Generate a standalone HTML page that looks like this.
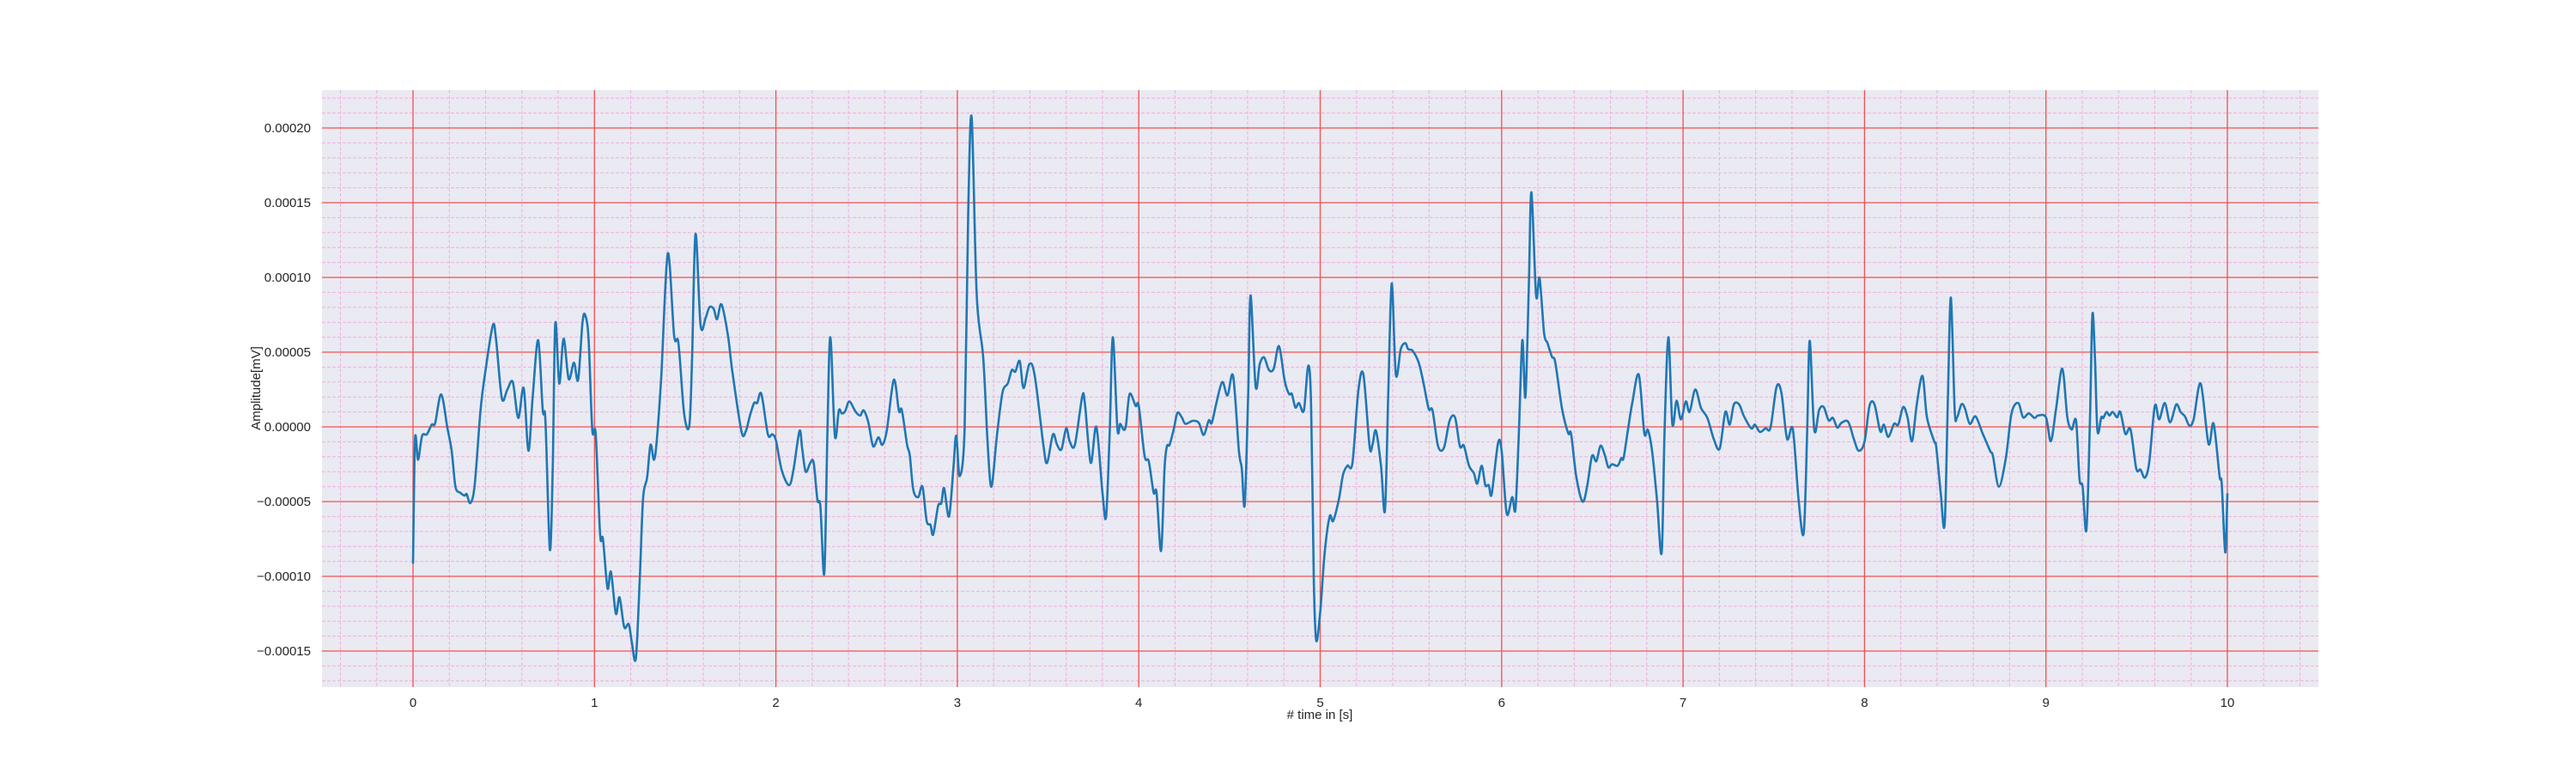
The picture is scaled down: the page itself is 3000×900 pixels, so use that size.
<!DOCTYPE html>
<html><head><meta charset="utf-8"><style>
html,body{margin:0;padding:0;background:#fff;}
svg{display:block;font-family:"Liberation Sans",sans-serif;}
</style></head><body>
<svg id="chart" width="3000" height="900" xmlns="http://www.w3.org/2000/svg">
<rect x="375" y="105" width="2325" height="695" fill="#eaeaf2"/>
<g id="grid"></g>
<g id="ticks"></g>
<g id="series"></g>
<text transform="translate(303,452) rotate(-90)" text-anchor="middle" font-size="15" fill="#262626">Amplitude[mV]</text>
<text x="1537" y="837" text-anchor="middle" font-size="15" fill="#262626"># time in [s]</text>
</svg>
<script>
const xTicks = [0,1,2,3,4,5,6,7,8,9,10];
const yTicks = [-15,-10,-5,0,5,10,15,20];
const yTickLabels = ["\u22120.00015","\u22120.00010","\u22120.00005","0.00000","0.00005","0.00010","0.00015","0.00020"];
const times = [0,0.011,0.028,0.05,0.076,0.103,0.122,0.155,0.19,0.213,0.234,0.26,0.285,0.296,0.316,0.34,0.372,0.40,0.44,0.458,0.49,0.52,0.55,0.58,0.61,0.636,0.66,0.69,0.715,0.73,0.754,0.77,0.784,0.806,0.83,0.858,0.887,0.91,0.934,0.95,0.968,0.988,1.007,1.031,1.047,1.072,1.091,1.118,1.138,1.164,1.189,1.206,1.228,1.249,1.268,1.29,1.309,1.328,1.344,1.368,1.404,1.439,1.463,1.494,1.523,1.538,1.557,1.585,1.613,1.633,1.657,1.676,1.70,1.736,1.76,1.81,1.834,1.858,1.88,1.897,1.92,1.956,1.98,
2.0,2.032,2.073,2.098,2.13,2.145,2.164,2.19,2.208,2.229,2.245,2.267,2.284,2.30,2.325,2.347,2.363,2.382,2.405,2.44,2.465,2.484,2.51,2.536,2.565,2.587,2.612,2.65,2.678,2.694,2.723,2.738,2.757,2.784,2.808,2.831,2.852,2.867,2.894,2.912,2.927,2.954,2.978,2.994,3.013,3.04,3.06,3.079,3.107,3.143,3.167,3.188,3.218,3.249,3.278,3.30,3.32,3.344,3.365,3.397,3.427,3.475,3.495,3.527,3.55,3.574,3.60,3.62,3.648,3.688,3.703,3.735,3.766,3.80,3.82,3.84,3.857,3.882,3.898,3.917,3.93,3.95,3.983,
4.0,4.032,4.055,4.082,4.098,4.123,4.142,4.155,4.17,4.194,4.213,4.237,4.257,4.297,4.331,4.358,4.386,4.402,4.426,4.46,4.489,4.52,4.552,4.568,4.584,4.603,4.616,4.644,4.667,4.691,4.718,4.744,4.773,4.804,4.828,4.844,4.863,4.883,4.91,4.934,4.95,4.965,4.978,5.0,5.024,5.052,5.071,5.102,5.126,5.15,5.178,5.21,5.238,5.272,5.288,5.307,5.335,5.357,5.375,5.394,5.417,5.444,5.469,5.485,5.509,5.543,5.57,5.598,5.619,5.65,5.682,5.713,5.743,5.77,5.792,5.82,5.847,5.866,5.89,5.91,5.929,5.945,5.98,
6.0,6.028,6.058,6.076,6.095,6.114,6.131,6.15,6.164,6.19,6.209,6.234,6.253,6.277,6.296,6.332,6.367,6.383,6.411,6.446,6.471,6.498,6.522,6.545,6.569,6.588,6.609,6.64,6.659,6.672,6.696,6.72,6.756,6.786,6.806,6.83,6.857,6.882,6.898,6.919,6.941,6.964,6.988,7.015,7.036,7.067,7.099,7.134,7.17,7.202,7.233,7.257,7.28,7.309,7.336,7.376,7.396,7.423,7.455,7.482,7.515,7.542,7.573,7.605,7.636,7.665,7.684,7.698,7.723,7.75,7.775,7.802,7.826,7.85,7.873,7.91,7.942,7.968,
8.0,8.028,8.055,8.087,8.107,8.131,8.163,8.186,8.213,8.237,8.262,8.289,8.32,8.344,8.384,8.395,8.42,8.442,8.46,8.476,8.497,8.51,8.534,8.553,8.58,8.612,8.65,8.692,8.708,8.74,8.779,8.81,8.847,8.874,8.905,8.937,8.957,9.0,9.027,9.055,9.09,9.118,9.142,9.166,9.185,9.202,9.223,9.242,9.256,9.27,9.284,9.305,9.316,9.334,9.35,9.368,9.392,9.41,9.438,9.466,9.498,9.521,9.545,9.569,9.6,9.624,9.655,9.684,9.718,9.742,9.766,9.79,9.814,9.853,9.896,9.924,9.957,9.969,9.988,10.0];
const amplitudes = [-9.1,-0.84,-2.2,-0.6,-0.5,0.15,0.25,2.17,-0.1,-1.6,-4.0,-4.4,-4.6,-4.5,-5.1,-3.9,1.1,3.8,6.8,5.8,1.9,2.5,3.0,0.6,2.6,-1.6,2.1,5.8,1.1,0.4,-8.2,-2.8,6.9,2.9,5.9,3.2,4.3,3.15,7.0,7.45,5.8,-0.2,-0.5,-7.2,-7.5,-10.8,-9.7,-12.5,-11.4,-13.4,-13.2,-14.4,-15.5,-10.4,-4.8,-3.4,-1.2,-2.2,-0.84,3.35,11.6,6.1,5.6,0.9,0.1,4.6,12.9,6.8,7.3,8.0,7.9,7.2,8.2,6.1,3.7,-0.3,-0.3,0.8,1.6,1.6,2.2,-0.5,-0.5,
-0.9,-2.9,-3.9,-2.8,-0.27,-1.45,-3.0,-2.4,-2.4,-4.9,-5.3,-9.8,-0.35,6.0,-0.6,1.1,0.9,1.05,1.7,1.0,0.76,1.1,0.27,-1.3,-0.7,-1.2,-0.2,3.15,1.06,1.13,-1.2,-1.9,-4.2,-4.7,-4.0,-6.3,-6.55,-7.2,-5.3,-5.1,-4.1,-6.0,-2.8,-0.6,-3.3,-0.1,14.4,20.7,8.8,4.6,-1.1,-4.0,-0.6,2.3,2.9,3.8,3.7,4.4,2.6,4.2,3.4,-1.3,-2.4,-0.5,-1.2,-1.5,-0.1,-1.0,-1.2,2.0,1.6,-2.4,0.0,-4.4,-6.0,-0.3,6.0,-0.1,0.2,-0.2,0.15,2.2,1.4,
1.4,-1.95,-2.3,-4.4,-4.4,-8.3,-2.8,-1.3,-1.2,-0.1,0.94,0.64,0.2,0.4,0.27,-0.54,0.44,0.25,1.5,3.0,2.1,3.4,-1.6,-2.8,-5.2,2.1,8.8,2.7,4.2,4.65,3.8,3.9,5.4,3.1,2.2,2.2,1.3,1.6,1.1,4.1,1.4,-10.4,-14.3,-12.4,-8.5,-6.0,-6.3,-4.9,-3.2,-2.6,-2.4,2.4,3.5,-1.3,-1.2,-0.25,-2.6,-5.6,2.1,9.6,3.5,5.2,5.6,5.2,5.1,4.3,2.9,1.2,1.1,-1.3,-1.4,0.4,0.64,-1.3,-1.25,-2.6,-3.1,-3.8,-2.6,-3.9,-3.9,-4.5,-1.1,
-1.6,-5.8,-4.7,-5.5,-0.34,5.8,2.0,9.5,15.7,8.8,9.95,6.3,5.6,4.7,4.3,1.26,-0.42,-0.47,-3.3,-5.0,-4.0,-1.95,-2.3,-1.26,-1.9,-2.7,-2.5,-2.6,-2.1,-2.1,-0.2,1.6,3.5,-0.4,-0.2,-1.7,-5.0,-8.4,-0.34,6.0,0.2,1.75,0.5,1.7,1.0,2.5,1.26,0.6,-0.84,-1.45,1.0,0.15,1.5,1.5,0.7,-0.1,0.15,-0.34,-0.1,-0.05,2.66,2.3,-0.8,-0.15,-4.8,-7.1,-0.34,5.76,-0.2,1.13,1.33,0.44,0.6,-0.05,0.27,0.34,-0.84,-1.6,
-1.0,1.43,1.5,-0.3,0.15,-0.67,0.2,0.15,1.33,0.64,-0.96,1.6,3.4,0.64,-0.96,-1.33,-4.4,-6.5,2.1,8.65,1.13,0.64,1.5,1.26,0.2,0.7,-0.4,-1.6,-1.95,-4.0,-2.1,0.9,1.6,0.64,0.9,0.6,0.76,0.64,-0.96,1.13,3.9,0.64,-0.17,0.4,-3.5,-4.0,-6.9,0.15,7.5,4.6,-0.27,0.64,0.6,1.0,0.76,1.0,0.64,1.0,-0.47,-0.17,-2.8,-2.86,-3.4,-2.4,1.4,0.5,1.6,0.3,1.5,1.0,0.7,0.1,0.5,2.9,-1.13,0.22,-3.3,-3.8,-8.4,-4.5];

const NS = "http://www.w3.org/2000/svg";
const L = 375, R = 2700, T = 105, B = 800;
function xs(t){ return 481 + t * 211.3; }
function ys(v){ return 497 - v * 17.4; }
function mk(tag, attrs, parent){
  const e = document.createElementNS(NS, tag);
  for (const k in attrs) e.setAttribute(k, attrs[k]);
  parent.appendChild(e);
  return e;
}
const grid = document.getElementById('grid');
for (let i = -2; i <= 52; i++) {
  if (i % 5 === 0) continue;
  const x = xs(i * 0.2);
  if (x < L || x > R) continue;
  const ln = mk('line', {x1:x, x2:x, y1:T, y2:B, stroke:'#f2aee0', 'stroke-width':1, 'stroke-dasharray':'4,2'}, grid);
  
  
}
for (let v = -17; v <= 22; v++) {
  if (v % 5 === 0) continue;
  const y = ys(v);
  if (y < T || y > B) continue;
  const ln = mk('line', {x1:L, x2:R, y1:y, y2:y, stroke:'#f2aee0', 'stroke-width':1, 'stroke-dasharray':'4,2'}, grid);
  
  
}
const ticks = document.getElementById('ticks');
xTicks.forEach(t => {
  const x = xs(t);
  const ln = mk('line', {x1:x, x2:x, y1:T, y2:B, stroke:'#f25050', 'stroke-width':1.3}, grid);
  
  
  const tx = mk('text', {x:x, y:823, 'text-anchor':'middle', 'font-size':15, fill:'#262626'}, ticks);
  tx.textContent = String(t);
  
  
});
yTicks.forEach((v, i) => {
  const y = ys(v);
  const ln = mk('line', {x1:L, x2:R, y1:y, y2:y, stroke:'#f25050', 'stroke-width':1.3}, grid);
  
  
  const tx = mk('text', {x:362, y:y + 5, 'text-anchor':'end', 'font-size':15, fill:'#262626'}, ticks);
  tx.textContent = yTickLabels[i];
  
  
});
const series = document.getElementById('series');
const n = Math.min(times.length, amplitudes.length);
const P = [];
for (let i = 0; i < n; i++) P.push([xs(times[i]), ys(amplitudes[i])]);
// Catmull-Rom smoothing for a smoother trace
let d = 'M' + P[0][0].toFixed(1) + ',' + P[0][1].toFixed(1);
const k = 0.16;
for (let i = 0; i < P.length - 1; i++) {
  const p0 = P[Math.max(0, i - 1)], p1 = P[i], p2 = P[i + 1], p3 = P[Math.min(P.length - 1, i + 2)];
  const c1x = p1[0] + (p2[0] - p0[0]) * k, c1y = p1[1] + (p2[1] - p0[1]) * k;
  const c2x = p2[0] - (p3[0] - p1[0]) * k, c2y = p2[1] - (p3[1] - p1[1]) * k;
  d += ' C' + c1x.toFixed(1) + ',' + c1y.toFixed(1) + ' ' + c2x.toFixed(1) + ',' + c2y.toFixed(1) + ' ' + p2[0].toFixed(1) + ',' + p2[1].toFixed(1);
}
const pl = mk('path', {d: d, fill:'none', stroke:'#1f77b4', 'stroke-width':2.6, 'stroke-linejoin':'round', 'stroke-linecap':'round'}, series);


</script>
</body></html>
